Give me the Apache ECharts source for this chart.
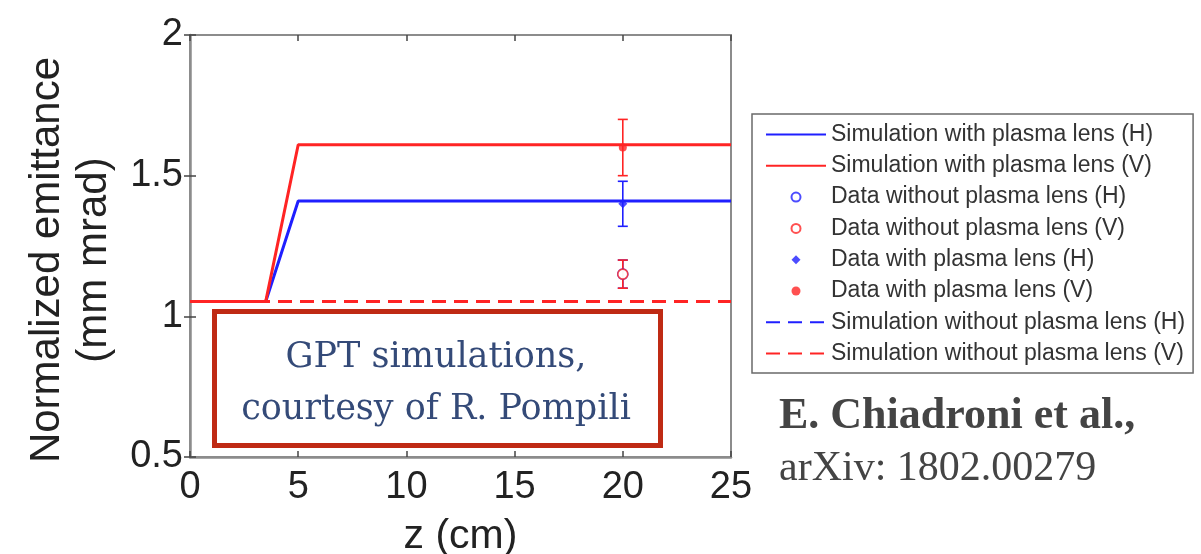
<!DOCTYPE html>
<html>
<head>
<meta charset="utf-8">
<script src="https://cdn.jsdelivr.net/npm/echarts@6/dist/echarts.min.js"></script>
<style>
html,body{margin:0;padding:0;background:#fff;}
#chart{width:1201px;height:554px;}
</style>
</head>
<body>
<div id="chart"></div>
<script>
// ---- data ----
const xTicks = [0, 5, 10, 15, 20, 25];
const yTicks = [0.5, 1, 1.5, 2];
const zSim = [0, 3.5, 5, 25];
const simLensH = [1.053, 1.053, 1.41, 1.41];
const simLensV = [1.053, 1.053, 1.61, 1.61];
const zNoLens = [0, 25];
const simNoLensH = [1.053, 1.053];
const simNoLensV = [1.053, 1.053];
const zMeas = [20];
const dataNoLensH = [1.15];
const errNoLensH = [0.05];
const dataNoLensV = [1.15];
const errNoLensV = [0.05];
const dataLensH = [1.40];
const errLensH = [0.08];
const dataLensV = [1.60];
const errLensV = [0.10];

const names = [
  'Simulation with plasma lens (H)',
  'Simulation with plasma lens (V)',
  'Data without plasma lens (H)',
  'Data without plasma lens (V)',
  'Data with plasma lens (H)',
  'Data with plasma lens (V)',
  'Simulation without plasma lens (H)',
  'Simulation without plasma lens (V)'
];
const lineNames = [names[0], names[1], names[6], names[7]];
const DIAMOND = 'path://M0,-1L1,0L0,1L-1,0Z';

const BLUE = '#1f1fff';
const RED = '#ff2424';

function pairs(xs, ys) { return xs.map((x, i) => [x, ys[i]]); }
function errPairs(xs, ys, es) { return xs.map((x, i) => [x, ys[i] - es[i], ys[i] + es[i]]); }

function errSeries(xs, ys, es, color) {
  return {
    type: 'custom',
    name: 'err',
    data: errPairs(xs, ys, es),
    z: 3,
    renderItem: function (params, api) {
      const lo = api.coord([api.value(0), api.value(1)]);
      const hi = api.coord([api.value(0), api.value(2)]);
      const cw = 5;
      const st = { stroke: color, lineWidth: 1.6 };
      return {
        type: 'group',
        children: [
          { type: 'line', shape: { x1: lo[0], y1: lo[1], x2: hi[0], y2: hi[1] }, style: st },
          { type: 'line', shape: { x1: lo[0] - cw, y1: lo[1], x2: lo[0] + cw, y2: lo[1] }, style: st },
          { type: 'line', shape: { x1: hi[0] - cw, y1: hi[1], x2: hi[0] + cw, y2: hi[1] }, style: st }
        ]
      };
    }
  };
}

const chart = echarts.init(document.getElementById('chart'));
const SANS = 'Liberation Sans, Arial, sans-serif';
const axisFont = { fontFamily: SANS, fontSize: 38, color: '#222' };
const tickStyle = { show: true, inside: true, length: 6, lineStyle: { color: '#444', width: 1.5 } };

function legendItem(n) {
  if (lineNames.indexOf(n) >= 0) return { name: n, itemStyle: { opacity: 0 } };
  if (n === names[4]) return { name: n, icon: DIAMOND };
  return { name: n };
}

const option = {
  animation: false,
  backgroundColor: '#fff',
  grid: { left: 190, right: 470, top: 35, bottom: 97, outerBoundsMode: 'none', containLabel: false, show: true, borderColor: '#8c8c8c', borderWidth: 2, backgroundColor: 'transparent' },
  xAxis: [{
    type: 'value', min: xTicks[0], max: xTicks[xTicks.length - 1], interval: 5,
    axisLine: { show: true, lineStyle: { color: '#8c8c8c', width: 2.5 } },
    axisTick: tickStyle,
    splitLine: { show: false },
    axisLabel: Object.assign({ margin: 12 }, axisFont),
    name: 'z (cm)', nameLocation: 'middle', nameGap: 59,
    nameTextStyle: { fontFamily: SANS, fontSize: 41, color: '#222' }
  }, {
    type: 'value', position: 'top', min: 0, max: 25, interval: 5,
    axisLine: { show: false }, axisTick: tickStyle,
    axisLabel: { show: false }, splitLine: { show: false }
  }],
  yAxis: [{
    type: 'value', min: yTicks[0], max: yTicks[yTicks.length - 1], interval: 0.5,
    axisLine: { show: true, lineStyle: { color: '#8c8c8c', width: 2.5 } },
    axisTick: tickStyle,
    splitLine: { show: false },
    axisLabel: Object.assign({ margin: 7 }, axisFont),
    name: 'Normalized emittance\n(mm mrad)', nameLocation: 'middle', nameGap: 72, nameRotate: 90,
    nameTextStyle: { fontFamily: SANS, fontSize: 42, lineHeight: 47, color: '#222', padding: [0, 28, 0, 0] }
  }, {
    type: 'value', position: 'right', min: 0.5, max: 2, interval: 0.5,
    axisLine: { show: false }, axisTick: tickStyle,
    axisLabel: { show: false }, splitLine: { show: false }
  }],
  legend: {
    orient: 'vertical', left: 752, top: 114,
    data: names.map(legendItem),
    itemWidth: 60, itemHeight: 9, itemGap: 8.3,
    symbolKeepAspect: true,
    padding: [9, 8, 8, 13],
    borderColor: '#6a6a6a', borderWidth: 1.5,
    backgroundColor: '#fff',
    textStyle: { fontFamily: SANS, fontSize: 23, lineHeight: 23, color: '#333' },
    selectedMode: false
  },
  series: [
    { type: 'line', name: names[0], data: pairs(zSim, simLensH), symbol: 'none', lineStyle: { color: BLUE, width: 3 }, itemStyle: { color: BLUE }, z: 2 },
    { type: 'line', name: names[1], data: pairs(zSim, simLensV), symbol: 'none', lineStyle: { color: RED, width: 3 }, itemStyle: { color: RED }, z: 2 },
    { type: 'scatter', name: names[2], data: pairs(zMeas, dataNoLensH), symbol: 'circle', symbolSize: 10, itemStyle: { color: '#fff', borderColor: BLUE, borderWidth: 1.6 }, z: 4 },
    { type: 'scatter', name: names[3], data: pairs(zMeas, dataNoLensV), symbol: 'circle', symbolSize: 10, itemStyle: { color: '#fff', borderColor: RED, borderWidth: 1.6 }, z: 4 },
    { type: 'scatter', name: names[4], data: pairs(zMeas, dataLensH), symbol: 'diamond', symbolSize: 9, itemStyle: { color: BLUE }, z: 4 },
    { type: 'scatter', name: names[5], data: pairs(zMeas, dataLensV), symbol: 'circle', symbolSize: 8, itemStyle: { color: RED }, z: 4 },
    { type: 'line', name: names[6], data: pairs(zNoLens, simNoLensH), symbol: 'none', lineStyle: { color: BLUE, width: 3, type: [14, 8] }, itemStyle: { color: BLUE }, z: 2 },
    { type: 'line', name: names[7], data: pairs(zNoLens, simNoLensV), symbol: 'none', lineStyle: { color: RED, width: 3, type: [14, 8] }, itemStyle: { color: RED }, z: 2 },
    errSeries(zMeas, dataNoLensH, errNoLensH, BLUE),
    errSeries(zMeas, dataNoLensV, errNoLensV, RED),
    errSeries(zMeas, dataLensH, errLensH, BLUE),
    errSeries(zMeas, dataLensV, errLensV, RED)
  ],
  graphic: [
    { type: 'rect', shape: { x: 214.5, y: 311.5, width: 446, height: 134 }, style: { fill: '#fff', stroke: '#bf2a14', lineWidth: 5 }, z: 10 },
    { type: 'text', x: 436, y: 358, style: { text: 'GPT simulations,', font: '35px "DejaVu Serif", serif', fill: '#344a78', textAlign: 'center', textVerticalAlign: 'middle' }, z: 11 },
    { type: 'text', x: 436, y: 410, style: { text: 'courtesy of R. Pompili', font: '35px "DejaVu Serif", serif', fill: '#344a78', textAlign: 'center', textVerticalAlign: 'middle' }, z: 11 },
    { type: 'text', x: 779, y: 417, style: { text: 'E. Chiadroni et al.,', font: 'bold 44px "Liberation Serif", serif', fill: '#444', textAlign: 'left', textVerticalAlign: 'middle' }, z: 11 },
    { type: 'text', x: 779, y: 469, style: { text: 'arXiv: 1802.00279', font: '42px "Liberation Serif", serif', fill: '#444', textAlign: 'left', textVerticalAlign: 'middle' }, z: 11 }
  ]
};
chart.setOption(option);
</script>
</body>
</html>
